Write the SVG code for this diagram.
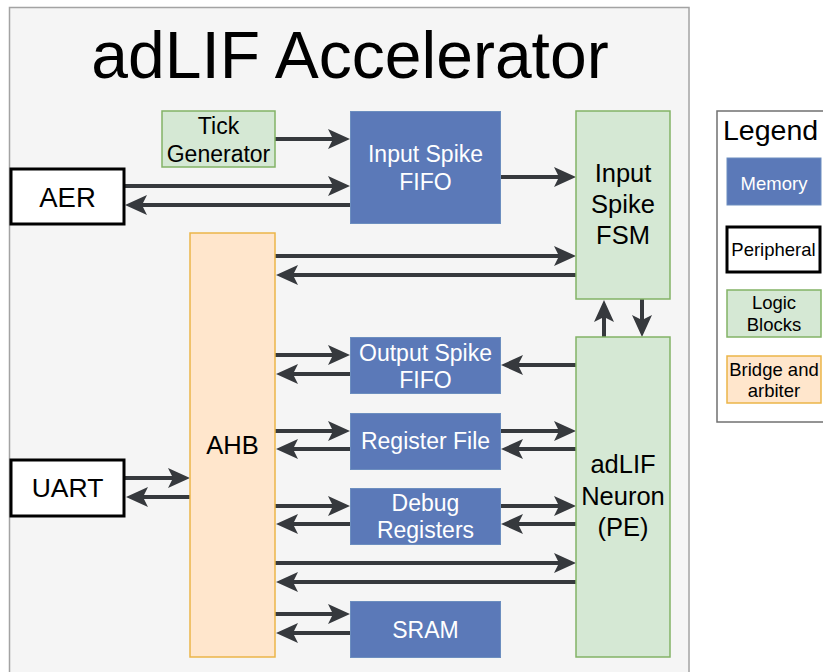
<svg xmlns="http://www.w3.org/2000/svg" width="823" height="672" viewBox="0 0 823 672">
  <defs>
    <style>
      text { font-family: "Liberation Sans", Arial, Helvetica, sans-serif; text-anchor: middle; }
      .mem { fill: #5b79b8; stroke: #6c8ebf; stroke-width: 1; }
      .logic { fill: #d5e8d4; stroke: #82b366; stroke-width: 1.5; }
      .bridge { fill: #ffe6cc; stroke: #ebb548; stroke-width: 1.5; }
      .peri { fill: #ffffff; stroke: #000000; stroke-width: 3; }
      .wt { fill: #ffffff; }
      .bk { fill: #000000; }
      .link { fill: none; stroke: #36393d; stroke-width: 4; marker-end: url(#head); }
    </style>
    <marker id="head" markerUnits="userSpaceOnUse" markerWidth="23" markerHeight="21" refX="6" refY="10" orient="auto" overflow="visible">
      <path d="M0,0 L22,10 L0,20 L5,10 Z" fill="#36393d"/>
    </marker>
  </defs>

  <!-- canvas -->
  <rect x="0" y="0" width="823" height="672" fill="#ffffff"/>

  <!-- accelerator outline -->
  <g id="accelerator">
    <rect x="9.5" y="7.5" width="679.5" height="700" fill="#f5f5f5" stroke="#a3a3a3" stroke-width="1.5"/>
    <text x="350" y="78" font-size="66" class="bk">adLIF Accelerator</text>
  </g>

  <!-- connectors -->
  <g id="connectors">
    <path class="link" d="M275,139 H334"/>
    <path class="link" d="M124,186 H334"/>
    <path class="link" d="M350,205 H141"/>
    <path class="link" d="M501,177 H560"/>
    <path class="link" d="M275,256 H560"/>
    <path class="link" d="M576,275 H292"/>
    <path class="link" d="M604,337 V316"/>
    <path class="link" d="M642,299 V321"/>
    <path class="link" d="M275,355 H334"/>
    <path class="link" d="M350,374 H292"/>
    <path class="link" d="M576,365 H517"/>
    <path class="link" d="M275,431 H334"/>
    <path class="link" d="M350,449 H292"/>
    <path class="link" d="M501,431 H560"/>
    <path class="link" d="M576,449 H517"/>
    <path class="link" d="M275,506 H334"/>
    <path class="link" d="M350,524 H292"/>
    <path class="link" d="M501,506 H560"/>
    <path class="link" d="M576,524 H517"/>
    <path class="link" d="M275,563 H560"/>
    <path class="link" d="M576,582 H292"/>
    <path class="link" d="M275,614 H334"/>
    <path class="link" d="M350,633 H292"/>
    <path class="link" d="M125,478 H174"/>
    <path class="link" d="M190,497 H142"/>
  </g>

  <!-- nodes -->
  <g id="tick-generator">
    <rect class="logic" x="162" y="111" width="113" height="56"/>
    <text x="218.5" y="134" font-size="23" class="bk">Tick</text>
    <text x="218.5" y="162" font-size="23" class="bk">Generator</text>
  </g>

  <g id="input-spike-fifo">
    <rect class="mem" x="350.5" y="111.5" width="150" height="112"/>
    <text x="425.5" y="162" font-size="23" class="wt">Input Spike</text>
    <text x="425.5" y="190" font-size="23" class="wt">FIFO</text>
  </g>

  <g id="input-spike-fsm">
    <rect class="logic" x="576" y="111" width="94" height="188"/>
    <text x="623" y="182" font-size="25.5" class="bk">Input</text>
    <text x="623" y="213" font-size="25.5" class="bk">Spike</text>
    <text x="623" y="244" font-size="25.5" class="bk">FSM</text>
  </g>

  <g id="aer">
    <rect class="peri" x="11" y="169" width="113" height="55"/>
    <text x="67.5" y="207" font-size="27.5" class="bk">AER</text>
  </g>

  <g id="ahb">
    <rect class="bridge" x="190" y="233" width="85" height="424"/>
    <text x="232.5" y="454" font-size="25.5" class="bk">AHB</text>
  </g>

  <g id="output-spike-fifo">
    <rect class="mem" x="350.5" y="337.5" width="150" height="56"/>
    <text x="425.5" y="361" font-size="23" class="wt">Output Spike</text>
    <text x="425.5" y="388" font-size="23" class="wt">FIFO</text>
  </g>

  <g id="register-file">
    <rect class="mem" x="350.5" y="413.5" width="150" height="56"/>
    <text x="425.5" y="449" font-size="23" class="wt">Register File</text>
  </g>

  <g id="debug-registers">
    <rect class="mem" x="350.5" y="488.5" width="150" height="56"/>
    <text x="425.5" y="511" font-size="23" class="wt">Debug</text>
    <text x="425.5" y="538" font-size="23" class="wt">Registers</text>
  </g>

  <g id="sram">
    <rect class="mem" x="350.5" y="601.5" width="150" height="56"/>
    <text x="425.5" y="638" font-size="23" class="wt">SRAM</text>
  </g>

  <g id="adlif-neuron">
    <rect class="logic" x="576" y="337" width="94" height="320"/>
    <text x="623" y="473" font-size="25.5" class="bk">adLIF</text>
    <text x="623" y="505" font-size="25.5" class="bk">Neuron</text>
    <text x="623" y="536" font-size="25.5" class="bk">(PE)</text>
  </g>

  <g id="uart">
    <rect class="peri" x="11" y="460" width="113" height="56"/>
    <text x="67.5" y="497" font-size="26.5" class="bk">UART</text>
  </g>

  <!-- legend -->
  <g id="legend">
    <rect x="717" y="111" width="130" height="311" fill="#ffffff" stroke="#707070" stroke-width="1.5"/>
    <text x="723" y="140" font-size="28.5" class="bk" style="text-anchor:start">Legend</text>
    <rect class="mem" x="727" y="158" width="94" height="47"/>
    <text x="774" y="190" font-size="18.5" class="wt">Memory</text>
    <rect class="peri" x="727" y="227" width="93" height="45" stroke-width="2.5"/>
    <text x="773.5" y="256" font-size="18.5" class="bk">Peripheral</text>
    <rect class="logic" x="727" y="290" width="94" height="47"/>
    <text x="774" y="309" font-size="18.5" class="bk">Logic</text>
    <text x="774" y="331" font-size="18.5" class="bk">Blocks</text>
    <rect class="bridge" x="727" y="356" width="94" height="47"/>
    <text x="774" y="376" font-size="18.5" class="bk">Bridge and</text>
    <text x="774" y="397" font-size="18.5" class="bk">arbiter</text>
  </g>
</svg>
